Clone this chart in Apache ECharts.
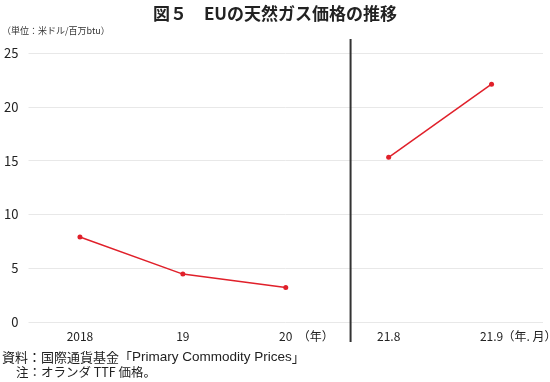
<!DOCTYPE html>
<html>
<head>
<meta charset="utf-8">
<script src="https://cdn.jsdelivr.net/npm/echarts@6/dist/echarts.min.js"></script>
<style>
html,body{margin:0;padding:0;background:#fff;}
#c{width:550px;height:382px;}
</style>
</head>
<body>
<div id="c"></div>
<script>
const categories = ['2018', '19', '20', '21.8', '21.9'];
const prices = [7.9, 4.45, 3.2, 15.3, 22.1];
const splitIndex = 3; // the annual part ends before this index
const yMin = 0, yMax = 25, yInterval = 5;
const titleText = '図５　EUの天然ガス価格の推移';
const unitText = '（単位：米ドル/百万btu）';
const note1a = '資料：国際通貨基金「';
const note1b = 'Primary Commodity Prices';
const note1c = '」';
const note2 = '注：オランダ TTF 価格。';
const yearUnit = '（年）';
const monthUnit = '（年. 月）';
const dividerPos = 2.63; // between categories 20 and 21.8 (category units)

const FONT = '"Noto Sans CJK JP", "Noto Sans", sans-serif';
const LATIN_FONT = '"Liberation Sans", "Noto Sans CJK JP", sans-serif';
const seriesAnnual = prices.map((v, i) => i < splitIndex ? v : '-');
const seriesMonthly = prices.map((v, i) => i >= splitIndex ? v : '-');

const chart = echarts.init(document.getElementById('c'), null, {renderer: 'canvas'});
const lineStyle = {color: '#e0202a', width: 1.5};
const itemStyle = {color: '#e0202a'};
chart.setOption({
  animation: false,
  backgroundColor: '#fff',
  textStyle: {fontFamily: FONT},
  title: {
    text: titleText, left: 'center', top: 0,
    textStyle: {fontSize: 17, fontWeight: 'bold', color: '#222', fontFamily: FONT}
  },
  grid: {left: 28.5, right: 7, top: 53, bottom: 60, containLabel: false},
  xAxis: {
    type: 'category', data: categories, boundaryGap: true,
    axisLine: {show: false}, axisTick: {show: false},
    axisLabel: {fontSize: 12, color: '#222', margin: 8, fontFamily: FONT}
  },
  yAxis: {
    type: 'value', min: yMin, max: yMax, interval: yInterval,
    axisLine: {show: false}, axisTick: {show: false},
    axisLabel: {fontSize: 13, color: '#222', margin: 10, fontFamily: FONT},
    splitLine: {lineStyle: {color: '#e8e8e8', width: 1}}
  },
  series: [
    {type: 'line', data: seriesAnnual, symbol: 'circle', symbolSize: 5, lineStyle, itemStyle, connectNulls: false},
    {type: 'line', data: seriesMonthly, symbol: 'circle', symbolSize: 5, lineStyle, itemStyle, connectNulls: false}
  ]
});

function drawExtras() {
  const p2 = chart.convertToPixel({xAxisIndex: 0}, categories[2]);
  const p3 = chart.convertToPixel({xAxisIndex: 0}, categories[3]);
  const p4 = chart.convertToPixel({xAxisIndex: 0}, categories[4]);
  const frac = dividerPos - 2;
  const xDiv = p2 + frac * (p3 - p2);
  const yTop = chart.convertToPixel({yAxisIndex: 0}, yMax);
  const yBot = chart.convertToPixel({yAxisIndex: 0}, yMin);
  const labelY = yBot + 8;
  chart.setOption({
    graphic: [
      {type: 'line', shape: {x1: xDiv, y1: yTop - 14, x2: xDiv, y2: yBot + 20},
       style: {stroke: '#333', lineWidth: 2}, z: 10},
      {type: 'text', x: p2 + 12, y: labelY,
       style: {text: yearUnit, fill: '#222', font: '12px ' + FONT, textVerticalAlign: 'top'}},
      {type: 'text', x: p4 + 11, y: labelY,
       style: {text: monthUnit, fill: '#222', font: '12px ' + FONT, textVerticalAlign: 'top'}},
      {type: 'text', x: 2, y: 26,
       style: {text: unitText, font: '9px ' + FONT, fill: '#333', textVerticalAlign: 'top'}},
      {type: 'text', x: 2, y: 349,
       style: {
         text: '{a|' + note1a + '}{b|' + note1b + '}{a|' + note1c + '}',
         fill: '#222', textVerticalAlign: 'top',
         rich: {
           a: {fontFamily: FONT, fontSize: 13, fill: '#222', lineHeight: 16},
           b: {fontFamily: LATIN_FONT, fontSize: 13.5, fill: '#222', lineHeight: 16}
         }
       }},
      {type: 'text', x: 16, y: 366,
       style: {text: note2, font: '12.5px ' + FONT, fill: '#222', textVerticalAlign: 'top'}}
    ]
  });
}
drawExtras();
</script>
</body>
</html>
